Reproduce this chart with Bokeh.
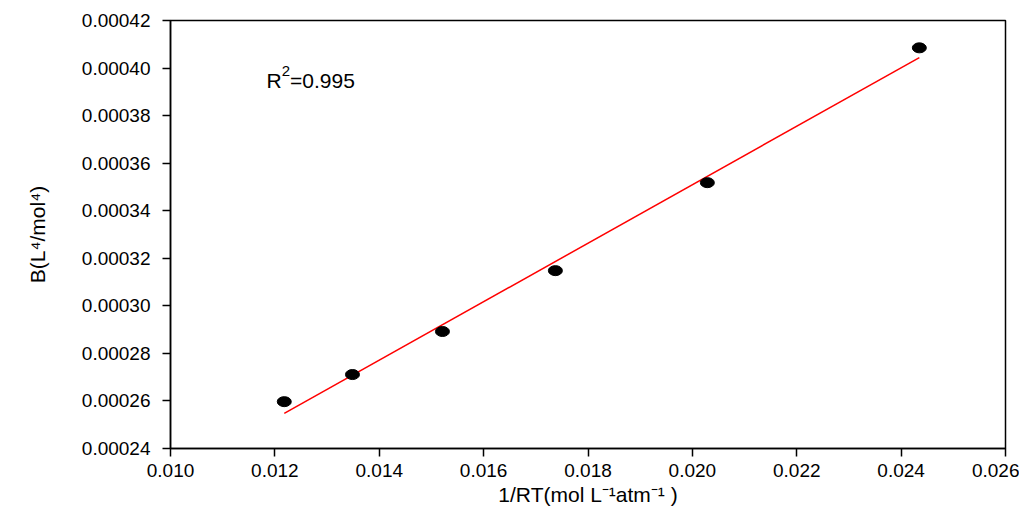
import math
import numpy as np
from bokeh.plotting import figure
from bokeh.models import Range1d, FixedTicker, Label, CustomJSTickFormatter
from bokeh.embed import file_html
from bokeh.resources import INLINE

x_vals = [0.01218, 0.013487, 0.015211, 0.017375, 0.020287, 0.024349]
b_vals = [0.0002597, 0.0002711, 0.0002892, 0.0003148, 0.0003518, 0.0004085]
x_ticks = [0.010, 0.012, 0.014, 0.016, 0.018, 0.020, 0.022, 0.024, 0.026]
y_ticks = [0.00024, 0.00026, 0.00028, 0.00030, 0.00032, 0.00034, 0.00036, 0.00038, 0.00040, 0.00042]
x_title = "1/RT(mol L⁻¹atm⁻¹ )"
y_title = "B(L⁴/mol⁴)"
r2_parts = [("R", False), ("2", True), ("=0.995", False)]

FONT = "Liberation Sans"
W, H = 1019, 511
FL, FR, FT, FB = 170, 1005, 20, 448   # frame edges in pixels
X0, X1, Y0, Y1 = 0.010, 0.026, 0.00024, 0.00042

p = figure(width=W, height=H, output_backend="svg", toolbar_location=None,
           x_range=Range1d(X0, X1), y_range=Range1d(Y0, Y1),
           min_border_left=FL, min_border_right=W - FR, min_border_top=FT, min_border_bottom=H - FB)
p.grid.visible = False
p.outline_line_color = "black"
p.outline_line_width = 1.5

slope, intercept = np.polyfit(x_vals, b_vals, 1)
fx = [x_vals[0], x_vals[-1]]
fy = [slope * v + intercept for v in fx]
p.line(fx, fy, line_color="red", line_width=1.5)

p.ellipse(x_vals, b_vals, width=14, height=10, width_units="screen", height_units="screen",
          fill_color="black", line_color="black")

for ax in (p.xaxis[0], p.yaxis[0]):
    ax.axis_line_width = 1.5
    ax.major_tick_line_width = 1.5
    ax.major_tick_out = 8
    ax.major_tick_in = 0
    ax.minor_tick_out = 0
    ax.minor_tick_in = 0
    ax.major_label_text_font = FONT
    ax.major_label_text_font_size = "19px"
    ax.major_label_text_color = "black"
    ax.axis_label_text_font = FONT
    ax.axis_label_text_font_size = "21px"
    ax.axis_label_text_font_style = "normal"
    ax.axis_label_text_color = "black"

p.xaxis.ticker = FixedTicker(ticks=x_ticks)
p.yaxis.ticker = FixedTicker(ticks=y_ticks)
p.xaxis.formatter = CustomJSTickFormatter(code="return tick.toFixed(3);")
p.yaxis.formatter = CustomJSTickFormatter(code="return tick.toFixed(5);")
p.xaxis.major_label_standoff = 7
p.yaxis.major_label_standoff = 12
p.xaxis.axis_label = x_title
p.yaxis.axis_label = y_title
p.xaxis.axis_label_standoff = 3
p.yaxis.axis_label_standoff = 30

AW = {'R': 722, '=': 584, '0': 556, '.': 278, '9': 556, '5': 556, '2': 556}

def tw(s, size):
    return sum(AW.get(c, 556) for c in s) * size / 1000.0

def px2x(px):
    return X0 + (px - FL) / (FR - FL) * (X1 - X0)

def py2y(py):
    return Y0 + (FB - py) / (FB - FT) * (Y1 - Y0)

pos = 266
for txt, sup in r2_parts:
    s = 15 if sup else 21
    lab = Label(x=px2x(pos), y=py2y(80 - (10 if sup else 0)), text=txt,
                text_font=FONT, text_font_size=f"{s}px", text_color="black",
                text_align="left", text_baseline="alphabetic")
    p.add_layout(lab)
    pos += tw(txt, s)

open("out.html", "w").write(file_html(p, INLINE))
